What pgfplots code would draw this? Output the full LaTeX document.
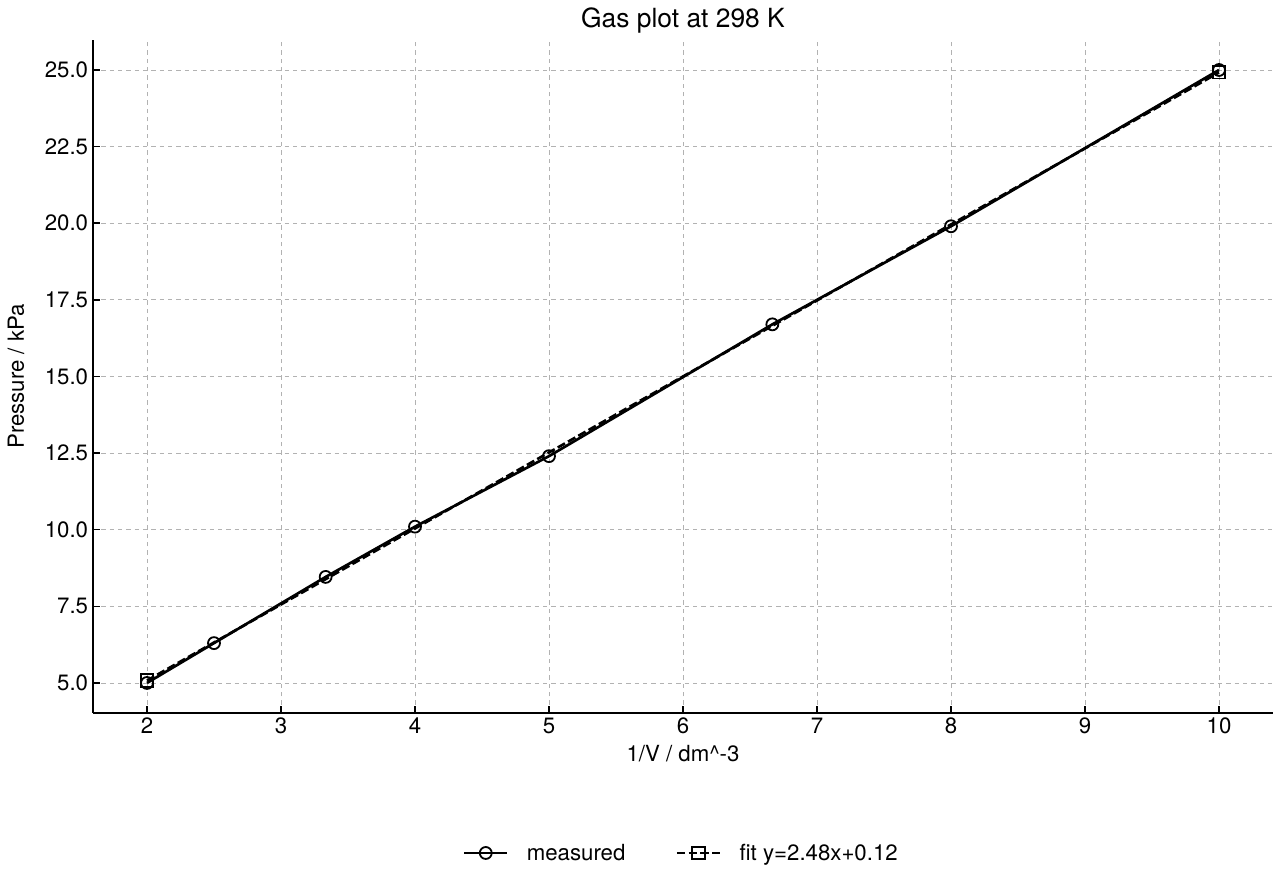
\documentclass[border=0pt]{standalone}
\usepackage{fontspec}
\setmainfont{TeX Gyre Heros}
\usepackage{pgfplots}
\pgfplotsset{compat=1.18}
\begin{document}
\begin{tikzpicture}[x=0.72pt,y=0.72pt]
\begin{axis}[
	name=ax,
	at={(0,0)}, anchor=south west,
	scale only axis,
	width=849.6pt, height=484.6pt,
	xmin=1.597, xmax=10.403,
	ymin=4.02, ymax=25.98,
	xtick={2,3,4,5,6,7,8,9,10},
	ytick={5,7.5,10,12.5,15,17.5,20,22.5,25},
	yticklabel style={/pgf/number format/.cd,fixed,fixed zerofill,precision=1},
	/pgf/number format/assume math mode=true,
	tick label style={font=\fontsize{16}{19}\selectfont},
	label style={font=\fontsize{16}{19}\selectfont},
	axis x line*=bottom, axis y line*=left,
	axis line style={line width=1.4pt,-},
	tick align=inside,
	major tick length=5pt,
	tick style={line width=1.1pt,black},
	xmajorgrids=true, ymajorgrids=true,
	grid style={dashed,color=black!30,line width=0.6pt},
	title={Gas plot at 298 K},
	title style={font=\fontsize{19}{22}\selectfont,yshift=-5pt},
	xlabel={1/V / dm\^{}-3},
	ylabel={Pressure / kPa},
	xlabel style={yshift=-1pt},
	ylabel style={yshift=8pt},
	legend columns=2,
	legend style={at={(0.5,-0.208)},anchor=center,draw=none,fill=none,
		font=\fontsize{16}{19}\selectfont,
		/tikz/every odd column/.append style={column sep=9pt},
		/tikz/every even column/.append style={column sep=32pt},
		nodes={inner sep=4pt}},
	legend image code/.code={
		\draw[mark repeat=2,mark phase=2] plot coordinates {(-0.1cm,0cm) (0.45cm,0cm) (1.0cm,0cm)};},
]
\addplot[black,line width=1.9pt,mark=o,mark size=4.3pt,
	mark options={solid,fill=white,line width=1.3pt}]
coordinates{
	(2, 5.0)
	(2.5, 6.3)
	(3.3333, 8.46)
	(4, 10.1)
	(5, 12.4)
	(6.6667, 16.7)
	(8, 19.9)
	(10, 25.0)
};
\addlegendentry{measured}

\addplot[black,line width=1.9pt,dash pattern=on 6pt off 2.5pt,mark=square,mark size=4.4pt,
	mark options={solid,fill=white,line width=1.3pt}]
coordinates{
	(2, 5.08)
	(10, 24.92)
};
\addlegendentry{fit y=2.48x+0.12}
\end{axis}
\pgfresetboundingbox
\path (-93,-167) rectangle (1187,673+40);
\end{tikzpicture}
\end{document}
